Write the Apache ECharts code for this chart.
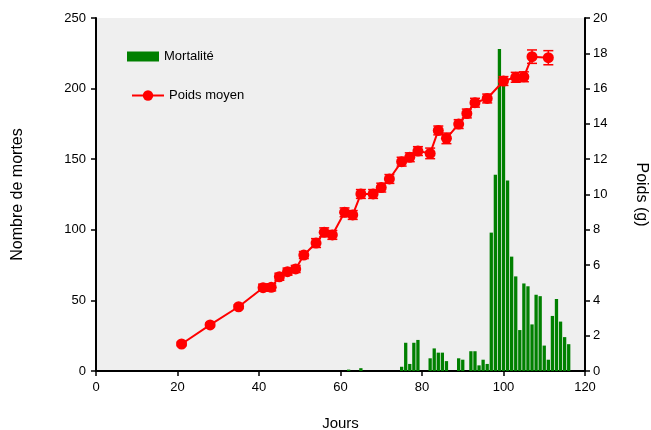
<!DOCTYPE html>
<html><head><meta charset="utf-8">
<script src="https://cdn.jsdelivr.net/npm/echarts@6/dist/echarts.min.js"></script>
<style>html,body{margin:0;padding:0;background:#fff}#c{width:651px;height:430px}</style>
</head><body><div id="c"></div>
<script>
const mortDays = [62,65,75,76,77,78,79,82,83,84,85,86,89,90,92,93,94,95,96,97,98,99,100,101,102,103,104,105,106,107,108,109,110,111,112,113,114,115,116];
const mortValues = [1,2,3,20,5,20,22,9,16,13,13,7,9,8,14,14,4,8,5,98,139,228,205,135,81,67,29,62,60,33,54,53,18,8,39,51,35,24,19];
const poidsDays = [21,28,35,41,43,45,47,49,51,54,56,58,61,63,65,68,70,72,75,77,79,82,84,86,89,91,93,96,100,103,105,107,111];
const poidsValues = [1.53,2.61,3.64,4.72,4.74,5.34,5.63,5.78,6.57,7.25,7.86,7.71,8.99,8.84,10.03,10.03,10.39,10.88,11.86,12.11,12.46,12.33,13.63,13.18,13.99,14.59,15.2,15.44,16.43,16.64,16.67,17.81,17.75];
const poidsErr = [0.1,0.1,0.1,0.2,0.2,0.2,0.2,0.2,0.2,0.25,0.25,0.25,0.25,0.25,0.25,0.25,0.25,0.25,0.25,0.25,0.25,0.3,0.25,0.3,0.25,0.25,0.25,0.25,0.25,0.28,0.28,0.38,0.4];
const xTicks = {min:0, max:120, interval:20};
const yLeftTicks = {min:0, max:250, interval:50};
const yRightTicks = {min:0, max:20, interval:2};

const FONT = 'Liberation Sans';
const chart = echarts.init(document.getElementById('c'));
const axisCommon = {
  axisLine:{show:true, lineStyle:{color:'#000', width:2}},
  axisTick:{show:true, inside:false, length:5, lineStyle:{color:'#000', width:1.5}},
  splitLine:{show:false},
  axisLabel:{color:'#000', fontFamily:FONT, fontSize:13},
  nameTextStyle:{color:'#000', fontFamily:FONT, fontSize:15}
};
chart.setOption({
  animation:false,
  backgroundColor:'#fff',
  grid:{left:96, right:66, top:18, bottom:59, show:true, backgroundColor:'#efefef', borderWidth:0, outerBoundsMode:'none', containLabel:false},
  legend:[
    {data:[{name:'Mortalité', icon:'rect'}], orient:'vertical', left:122, top:45, itemWidth:32, itemHeight:10, itemGap:8,
     textStyle:{fontFamily:FONT, fontSize:13, color:'#000'}},
    {data:['Poids moyen'], orient:'vertical', left:126, top:84, itemWidth:32, itemHeight:13, itemGap:8,
     textStyle:{fontFamily:FONT, fontSize:13, color:'#000'}}
  ],
  xAxis:Object.assign({}, axisCommon, {type:'value', min:xTicks.min, max:xTicks.max, interval:xTicks.interval,
    name:'Jours', nameLocation:'middle', nameGap:45,
    axisLabel:Object.assign({}, axisCommon.axisLabel, {margin:10})}),
  yAxis:[
    Object.assign({}, axisCommon, {type:'value', position:'left', min:yLeftTicks.min, max:yLeftTicks.max, interval:yLeftTicks.interval,
      name:'Nombre de mortes', nameLocation:'middle', nameGap:70, nameRotate:90,
      nameTextStyle:{color:'#000', fontFamily:FONT, fontSize:16},
      axisLabel:Object.assign({}, axisCommon.axisLabel, {margin:10})}),
    Object.assign({}, axisCommon, {type:'value', position:'right', min:yRightTicks.min, max:yRightTicks.max, interval:yRightTicks.interval,
      name:'Poids (g)', nameLocation:'middle', nameGap:48, nameRotate:-90,
      nameTextStyle:{color:'#000', fontFamily:FONT, fontSize:16},
      axisLabel:Object.assign({}, axisCommon.axisLabel, {margin:8})})
  ],
  series:[
    {name:'Mortalité', type:'bar', xAxisIndex:0, yAxisIndex:0, barWidth:3.3,
     itemStyle:{color:'#008000'},
     data: mortDays.map((d,i)=>[d, mortValues[i]]), z:2},
    {name:'errPoids', type:'custom', xAxisIndex:0, yAxisIndex:1, z:3,
     encode:{x:0, y:[1,2]},
     renderItem:function(params, api){
       const x = api.value(0), lo = api.value(1), hi = api.value(2);
       const p1 = api.coord([x, hi]), p2 = api.coord([x, lo]);
       const w = 5;
       const st = {stroke:'#ff0000', lineWidth:1.5};
       return {type:'group', children:[
         {type:'line', shape:{x1:p1[0], y1:p1[1], x2:p2[0], y2:p2[1]}, style:st},
         {type:'line', shape:{x1:p1[0]-w, y1:p1[1], x2:p1[0]+w, y2:p1[1]}, style:st},
         {type:'line', shape:{x1:p2[0]-w, y1:p2[1], x2:p2[0]+w, y2:p2[1]}, style:st}
       ]};
     },
     data: poidsDays.map((d,i)=>[d, poidsValues[i]-poidsErr[i], poidsValues[i]+poidsErr[i]])},
    {name:'Poids moyen', type:'line', xAxisIndex:0, yAxisIndex:1, z:4,
     symbol:'circle', symbolSize:11, showSymbol:true,
     lineStyle:{color:'#ff0000', width:2}, itemStyle:{color:'#ff0000'},
     data: poidsDays.map((d,i)=>[d, poidsValues[i]])}
  ]
});
</script>
</body></html>
